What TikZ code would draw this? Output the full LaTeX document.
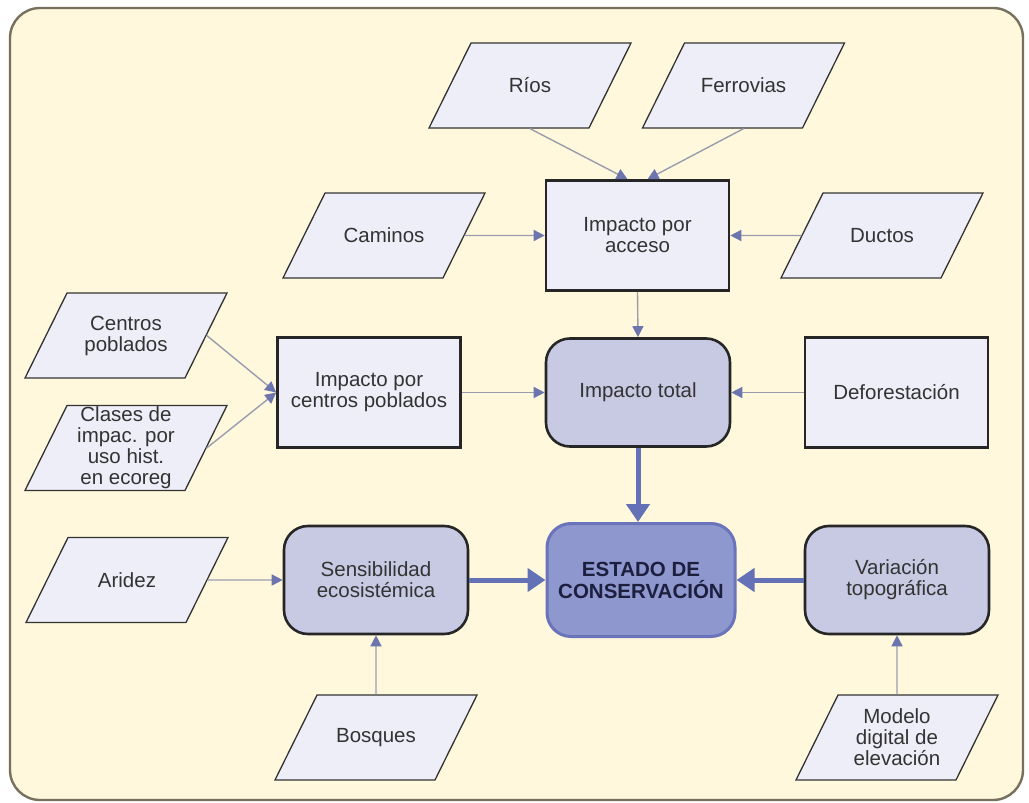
\documentclass[tikz,border=0pt]{standalone}
\usepackage{fontspec}
\setmainfont{Liberation Sans}
\usetikzlibrary{shapes.geometric,arrows.meta}

\definecolor{paper}{HTML}{FFF8DC}
\definecolor{frame}{HTML}{77705E}
\definecolor{inputfill}{HTML}{EEEEF8}
\definecolor{midfill}{HTML}{C7CAE2}
\definecolor{corefill}{HTML}{8E97CE}
\definecolor{coreline}{HTML}{6A74BA}
\definecolor{linkgray}{HTML}{9A9CAE}
\definecolor{tipblue}{HTML}{6C75AE}
\definecolor{strongblue}{HTML}{6571B6}
\definecolor{ink}{HTML}{333333}
\definecolor{coreink}{HTML}{1C1F3E}

% fixed-size text block for the input layers
\newcommand{\layertext}[1]{\parbox[c][64pt][c]{110pt}{\centering #1}}

\begin{document}
\begin{tikzpicture}[x=1pt,y=-1pt,
  font=\fontsize{20.5}{21}\selectfont, text=ink,
  dataset/.style={trapezium, trapezium left angle=63.7, trapezium right angle=116.3,
    trapezium stretches body=true, minimum width=202pt,
    inner xsep=0pt, inner ysep=10.5pt, draw=black!80, line width=1.3pt, fill=inputfill},
  procbox/.style={rectangle, draw=black!85, line width=2.6pt, fill=inputfill,
    minimum width=183pt, minimum height=110pt, inner sep=2pt, align=center},
  midbox/.style={rectangle, rounded corners=24pt, draw=black!85, line width=2.6pt,
    fill=midfill, minimum width=184pt, minimum height=108pt, align=center},
  corebox/.style={rectangle, rounded corners=24pt, draw=coreline, line width=3pt,
    fill=corefill, minimum width=188pt, minimum height=113pt, align=center,
    text=coreink, font=\fontsize{20.5}{22}\selectfont\bfseries},
  link/.style={draw=linkgray, line width=1.4pt,
    -{Triangle[length=11pt,width=11pt,color=tipblue]}},
  mainlink/.style={draw=strongblue, line width=5pt,
    -{Triangle[length=18pt,width=23pt]}},
]
\useasboundingbox (0,0) rectangle (1029,803);

% framed background panel
\draw[draw=frame, fill=paper, line width=2.4pt, rounded corners=30pt]
  (10,8) rectangle (1023,800);

% input layers
\node[dataset] (rios)    at (530,85.5)   {\layertext{Ríos}};
\node[dataset] (ferro)   at (743.5,85.5) {\layertext{Ferrovias}};
\node[dataset] (caminos) at (384,235.5)  {\layertext{Caminos}};
\node[dataset] (ductos)  at (882,235.5)  {\layertext{Ductos}};
\node[dataset] (centros) at (126,335.5)  {\layertext{Centros\\poblados}};
\node[dataset] (clases)  at (126,448)    {\layertext{Clases de\\impac. por\\uso hist.\\en ecoreg}};
\node[dataset] (aridez)  at (127,580)    {\layertext{Aridez}};
\node[dataset] (bosques) at (376,737.5)  {\layertext{Bosques}};
\node[dataset] (modelo)  at (897,737.5)  {\layertext{Modelo\\digital de\\elevación}};

% intermediate products
\node[procbox] (acceso) at (637.5,235.5) {Impacto por\\acceso};
\node[procbox] (icp)    at (369,392.5)   {Impacto por\\centros poblados};
\node[procbox] (defor)  at (896.5,392.5) {Deforestación};
\node[midbox]  (total)  at (638,392.5)   {Impacto total};
\node[midbox]  (sens)   at (376,580)     {Sensibilidad\\ecosistémica};
\node[midbox]  (topo)   at (897,580)     {Variación\\topográfica};
\node[corebox] (estado) at (641,580)     {ESTADO DE\\CONSERVACIÓN};

% thin connectors
\draw[link] (rios.south)  -- ([xshift=-10pt]acceso.north);
\draw[link] (ferro.south) -- ([xshift=10pt]acceso.north);
\draw[link] (caminos.east) -- (acceso.west);
\draw[link] (ductos.west) -- (acceso.east);
\draw[link] (acceso.south) -- (total.north);
\draw[link] (centros.east) -- (icp.west);
\draw[link] (clases.east) -- (icp.west);
\draw[link] (icp.east) -- (total.west);
\draw[link] (defor.west) -- (total.east);
\draw[link] (aridez.east) -- (sens.west);
\draw[link] (bosques.north) -- (sens.south);
\draw[link] (modelo.north) -- (topo.south);

% main connectors into the final state
\draw[mainlink] (total.south) -- (total.south |- estado.north);
\draw[mainlink] (sens.east) -- (estado.west);
\draw[mainlink] (topo.west) -- (estado.east);
\end{tikzpicture}
\end{document}
